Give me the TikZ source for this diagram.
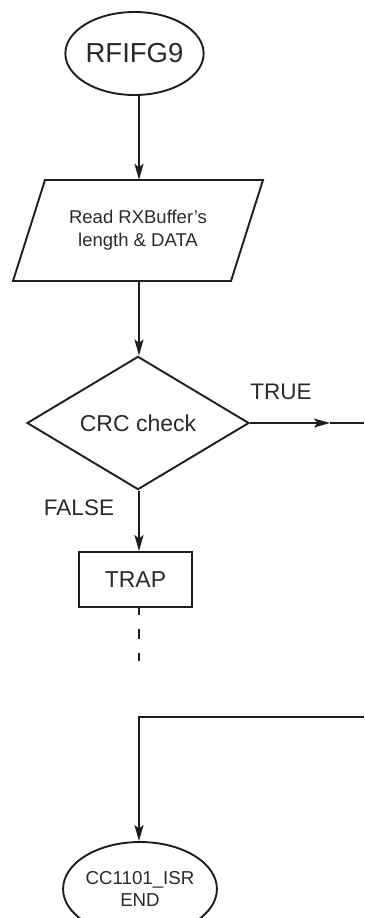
\documentclass[tikz,border=0pt]{standalone}
\usepackage{fontspec}
\setmainfont{Liberation Sans}
\usetikzlibrary{shapes.geometric,arrows.meta}
\definecolor{ink}{HTML}{1E1E1E}
\definecolor{txt}{HTML}{2A2A2A}
\begin{document}
\begin{tikzpicture}[x=1pt,y=-1pt,
  every node/.style={text=txt},
  line/.style={draw=ink,line width=1.9pt},
  flow/.style={line,-{Stealth[length=16pt,width=9pt,inset=3.5pt]}},
  terminal/.style={ellipse,line,inner sep=0pt},
  decision/.style={diamond,line,inner sep=0pt,minimum width=222pt,minimum height=112pt,font=\fontsize{23}{27}\selectfont},
  process/.style={rectangle,line,inner sep=0pt,minimum width=113pt,minimum height=55pt,font=\fontsize{23}{27}\selectfont},
  label/.style={font=\fontsize{22.5}{27}\selectfont,inner sep=0pt}]
\useasboundingbox (0,0) rectangle (364,918);
\clip (0,0) rectangle (364,918);

% vertical axis of the main flow
\coordinate (axis) at (139,0);

% start terminal
\node[terminal,minimum width=127pt,minimum height=83pt,font=\fontsize{27.5}{32}\selectfont] (start) at (134.5,53.5) {RFIFG9};

% data input (parallelogram)
\node[inner sep=0pt,minimum width=150pt,minimum height=101pt,align=center,
      font=\fontsize{18.5}{23}\selectfont] (read) at (138,230.5) {Read RXBuffer’s\\length \& DATA};
\draw[line,line join=miter] (45,180) -- (263,180) -- (231,281) -- (13,281) -- cycle;

% decision
\node[decision] (crc) at (138,423) {CRC check};
\node[label] (true) at (281,392) {TRUE};
\node[label] (false) at (79,508) {FALSE};

% trap
\node[process] (trap) at (135.5,579.5) {TRAP};

% end terminal
\node[terminal,minimum width=130pt,minimum height=94pt,align=center,
      font=\fontsize{18.7}{21.5}\selectfont] (done) at (140,889) {CC1101\_ISR\\END};

% helper points
\coordinate (truemid) at (330,423);
\coordinate (trueout) at (364,423);
\coordinate (trapgo) at (139,661);
\coordinate (retin) at (364,717);
\coordinate (retbend) at (139,717);

% connectors
\draw[flow] (start.south -| axis) -- (read.north -| axis);
\draw[flow] (read.south -| axis) -- (crc.north -| axis);
\draw[flow] (crc.east) -- (truemid);
\draw[line] (truemid) -- (trueout);
\draw[flow] (crc.south -| axis) -- (trap.north -| axis);
\draw[line,dash pattern=on 7pt off 14pt on 10pt off 14pt on 9pt off 40pt] (trap.south -| axis) -- (trapgo);
\draw[flow] (retin) -- (retbend) -- (done.north -| axis);
\end{tikzpicture}
\end{document}
